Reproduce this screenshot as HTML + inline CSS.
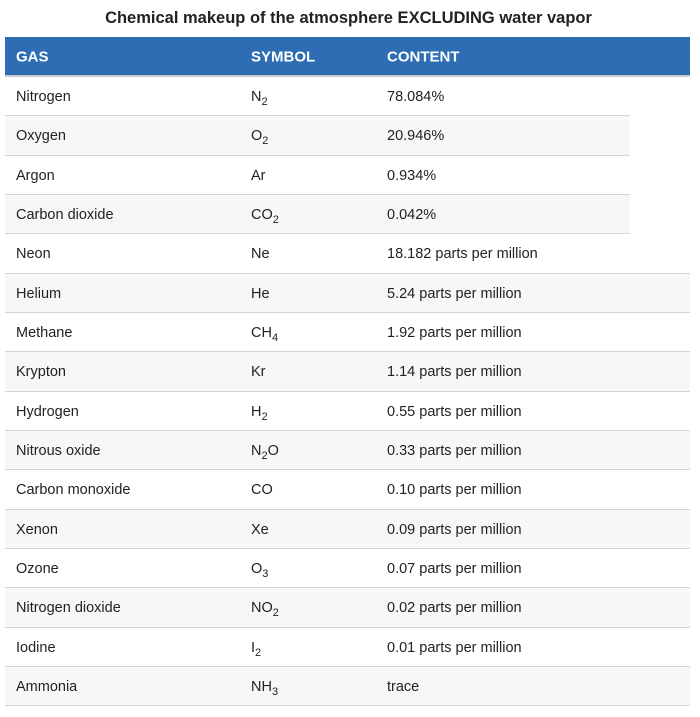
<!DOCTYPE html>
<html><head><meta charset="utf-8"><style>
body{margin:0;background:#fff;width:700px;height:717px;overflow:hidden;font-family:"Liberation Sans",sans-serif;color:#222;}
.title{position:absolute;top:9px;left:0;width:697px;text-align:center;font-weight:bold;font-size:16.5px;color:#222;}
.head{position:absolute;left:5px;top:37px;width:685px;height:38px;background:#2e6db4;border-bottom:2px solid #c9ccd1;color:#fff;font-weight:bold;font-size:15px;}
.head span,.row span{position:absolute;top:50%;transform:translateY(-45%);}
.row{position:absolute;left:5px;height:38.3px;border-bottom:1px solid #d4d4d4;font-size:14.5px;}
.c1{left:11px}.c2{left:246px}.c3{left:382px}
sub{font-size:11px;vertical-align:-4px;line-height:0}
</style></head><body>
<div class="title">Chemical makeup of the atmosphere EXCLUDING water vapor</div>
<div class="head"><span class="c1">GAS</span><span class="c2">SYMBOL</span><span class="c3">CONTENT</span></div>
<div id="rows"></div>
<script>
const gases=["Nitrogen","Oxygen","Argon","Carbon dioxide","Neon","Helium","Methane","Krypton","Hydrogen","Nitrous oxide","Carbon monoxide","Xenon","Ozone","Nitrogen dioxide","Iodine","Ammonia"];
const symbols=["N<sub>2</sub>","O<sub>2</sub>","Ar","CO<sub>2</sub>","Ne","He","CH<sub>4</sub>","Kr","H<sub>2</sub>","N<sub>2</sub>O","CO","Xe","O<sub>3</sub>","NO<sub>2</sub>","I<sub>2</sub>","NH<sub>3</sub>"];
const contents=["78.084%","20.946%","0.934%","0.042%","18.182 parts per million","5.24 parts per million","1.92 parts per million","1.14 parts per million","0.55 parts per million","0.33 parts per million","0.10 parts per million","0.09 parts per million","0.07 parts per million","0.02 parts per million","0.01 parts per million","trace"];
const cont=document.getElementById('rows');
for(let i=0;i<gases.length;i++){
  const r=document.createElement('div');
  r.className='row';
  
  
  const top=77+i*39.33;
  r.style.top=top+'px';
  r.style.width=(i<4?625:685)+'px';
  if(i%2==1) r.style.background='#f7f7f7';
  r.innerHTML='<span class="c1">'+gases[i]+'</span><span class="c2">'+symbols[i]+'</span><span class="c3">'+contents[i]+'</span>';
  cont.appendChild(r);
}
</script>
</body></html>
